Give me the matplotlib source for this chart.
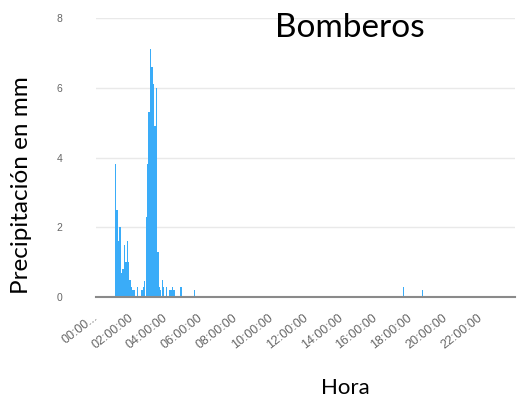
import numpy as np
import matplotlib.pyplot as plt

# 5-minute intervals over one day; only non-zero readings listed
horas = ["01:05", "01:10", "01:15", "01:20", "01:25", "01:30", "01:35", "01:40",
         "01:45", "01:50", "01:55", "02:00", "02:05", "02:10", "02:20", "02:35",
         "02:40", "02:45", "02:50", "02:55", "03:00", "03:05", "03:10", "03:15",
         "03:20", "03:25", "03:30", "03:35", "03:40", "03:45", "03:50", "04:00",
         "04:10", "04:15", "04:20", "04:25", "04:50", "05:35", "17:35", "18:40"]
precip = [3.8, 2.5, 1.6, 2.0, 0.7, 0.8, 1.5, 1.0,
          1.6, 1.0, 0.5, 0.3, 0.2, 0.2, 0.3, 0.2,
          0.3, 0.45, 2.3, 3.8, 5.3, 7.1, 6.6, 6.1,
          4.9, 6.0, 1.3, 0.3, 0.2, 0.5, 0.3, 0.3,
          0.2, 0.2, 0.3, 0.2, 0.3, 0.2, 0.3, 0.2]
tick_labels = ["00:00...", "02:00:00", "04:00:00", "06:00:00", "08:00:00",
               "10:00:00", "12:00:00", "14:00:00", "16:00:00", "18:00:00",
               "20:00:00", "22:00:00"]

n = 288
serie = np.zeros(n)
for h, v in zip(horas, precip):
    hh, mm = map(int, h.split(":"))
    serie[(hh * 60 + mm) // 5] = v

fig = plt.figure(figsize=(5.17, 4.00), dpi=100)
ax = fig.add_axes([96 / 517, 1 - 297 / 400, 419 / 517, 279 / 400])

ax.bar(np.arange(n), serie, width=0.95, color="#3aacf8", linewidth=0)

ax.set_xlim(-0.5, n - 0.5)
ax.set_ylim(0, 8)
ax.set_yticks([0, 2, 4, 6, 8])
ax.grid(axis="y", color="#e9e9e9", lw=1)
ax.set_axisbelow(True)
for s in ["top", "right", "left"]:
    ax.spines[s].set_visible(False)
ax.spines["bottom"].set_color("#8a8a8a")
ax.spines["bottom"].set_linewidth(1.5)

ax.set_xticks(np.arange(0, n, 24))
ax.set_xticklabels(tick_labels, rotation=38, ha="right", va="center",
                   rotation_mode="anchor", fontsize=9, color="#666666",
                   family="Liberation Sans")
ax.tick_params(axis="x", length=0, pad=14)
ax.tick_params(axis="y", length=0, pad=24, labelsize=7.5, labelcolor="#666666")
for t in ax.get_yticklabels():
    t.set_family("Liberation Sans")

fig.text(22 / 517, 1 - 185 / 400, "Precipitación en mm", fontsize=17.5,
         family="Lato", rotation=90, ha="center", va="center")
fig.text(345 / 517, 1 - 388 / 400, "Hora", fontsize=16, family="Lato",
         ha="center", va="center")
fig.text(350 / 517, 1 - 28 / 400, "Bomberos", fontsize=24, family="Lato",
         ha="center", va="center")

plt.savefig("out.png", dpi=100)
